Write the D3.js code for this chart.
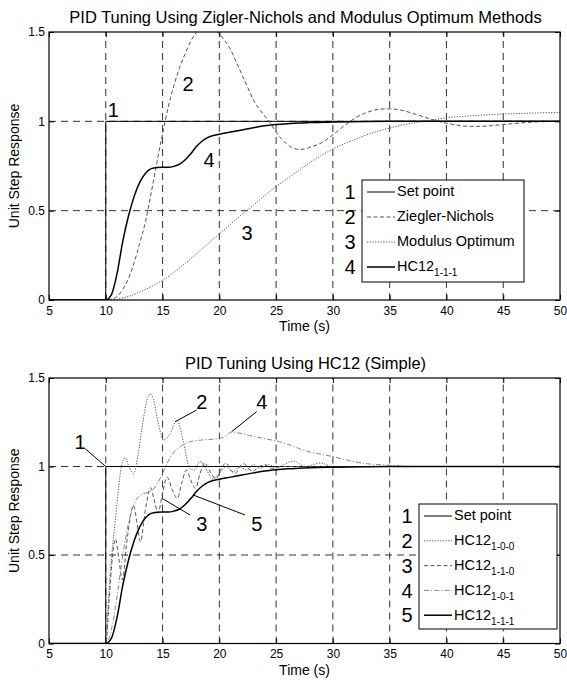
<!DOCTYPE html>
<html lang="en">
<head>
<meta charset="UTF-8">
<title>PID Tuning</title>
<script src="https://d3js.org/d3.v7.min.js"></script>
<style>
  body { margin: 0; background: #fff; }
  text { font-family: Arial, "Liberation Sans", sans-serif; fill: #000; }
  .axis .domain { display: none; }
  .axis line { stroke: #000; }
  .axis text { font-size: 12px; }
  .grid line { stroke: #333; stroke-dasharray: 7,5; }
</style>
</head>
<body>
<svg id="chart" width="567" height="680"></svg>
<script>
// ---- data ----
const xTicks = [5, 10, 15, 20, 25, 30, 35, 40, 45, 50];
const yTicks = [0, 0.5, 1, 1.5];

const setPoint = [[5,0],[10,0],[10,1],[50,1]];

const zieglerNichols = [[5,0],[10,0],[10.5,0.005],[11,0.02],[11.5,0.06],[12,0.12],[12.5,0.21],[13,0.32],
  [13.5,0.44],[14,0.6],[14.5,0.77],[15,0.93],[15.5,1.08],[16,1.2],[16.5,1.3],[17,1.38],[17.5,1.45],
  [18,1.5],[18.5,1.53],[19,1.53],[19.5,1.52],[20,1.49],[20.5,1.45],[21,1.4],[21.5,1.33],[22,1.26],
  [22.5,1.19],[23,1.12],[23.5,1.07],[24,1.03],[24.5,0.99],[25,0.94],[25.5,0.9],[26,0.87],[26.5,0.85],
  [27,0.843],[27.5,0.845],[28,0.855],[29,0.88],[30,0.925],[31,0.975],[32,1.02],[33,1.05],[34,1.067],
  [35,1.07],[36,1.063],[37,1.045],[38,1.025],[39,1.005],[40,0.99],[41,0.978],[42,0.972],[43,0.972],
  [44,0.976],[45,0.982],[46,0.988],[47,0.993],[48,0.997],[50,1.0]];

const modulusOptimum = [[5,0],[10,0],[11,0.005],[12,0.02],[13,0.045],[14,0.075],[15,0.11],[16,0.155],
  [17,0.205],[18,0.26],[19,0.315],[20,0.37],[21,0.425],[22,0.48],[23,0.53],[24,0.585],[25,0.635],
  [26,0.68],[27,0.725],[28,0.77],[29,0.81],[30,0.845],[31,0.875],[32,0.9],[33,0.925],[34,0.945],
  [35,0.962],[36,0.978],[37,0.99],[38,1.0],[39,1.01],[40,1.02],[42,1.03],[44,1.038],[46,1.043],
  [48,1.047],[50,1.05]];

const hc111 = [[5,0],[10,0],[10.5,0.03],[11,0.15],[11.5,0.33],[12,0.47],[12.5,0.58],[13,0.66],[13.5,0.71],
  [14,0.735],[14.5,0.742],[15,0.743],[15.5,0.743],[16,0.748],[16.5,0.76],[17,0.785],[17.5,0.82],
  [18,0.86],[18.5,0.89],[19,0.91],[20,0.928],[21,0.94],[22,0.952],[23,0.964],[24,0.975],[25,0.982],
  [26,0.987],[27,0.99],[28,0.993],[30,0.996],[33,0.999],[35,1.0],[50,1.0]];

const hc100 = [[5,0],[10,0],[10.2,0.2],[10.4,0.4],[10.6,0.55],[10.8,0.67],[11,0.8],[11.3,0.97],[11.7,1.05],
  [12.1,0.99],[12.45,0.96],[12.8,1.05],[13.2,1.22],[13.6,1.37],[13.9,1.41],[14.2,1.38],[14.6,1.25],
  [15.1,1.15],[15.6,1.18],[16.3,1.26],[16.8,1.15],[17.4,0.99],[17.8,0.98],[18.3,1.03],[18.8,0.99],
  [19.4,0.93],[20,0.96],[20.6,1.0],[21.2,0.97],[21.8,1.0],[22.4,0.98],[23,1.01],[23.6,0.99],
  [24.3,1.01],[25,0.995],[26.5,1.03],[27.6,1.0],[28.9,1.02],[30,1.0],[50,1.0]];

const hc110 = [[5,0],[10,0],[10.3,0.25],[10.6,0.5],[10.85,0.59],[11.15,0.48],[11.45,0.36],[11.9,0.6],
  [12.45,0.78],[12.75,0.68],[13.05,0.575],[13.5,0.76],[13.95,0.88],[14.3,0.8],[14.6,0.735],[15,0.85],
  [15.4,0.94],[15.85,0.87],[16.3,0.82],[16.7,0.91],[17.1,0.98],[17.5,0.92],[17.9,0.877],[18.3,0.96],
  [18.7,1.02],[19.2,0.97],[19.7,0.93],[20.2,0.99],[20.6,1.02],[21,0.98],[21.4,0.96],[21.8,1.0],
  [22.2,1.015],[22.6,0.985],[23,0.975],[23.5,1.0],[24,1.01],[24.6,0.99],[25.5,1.0],[50,1.0]];

const hc101 = [[5,0],[10,0],[10.5,0.08],[11,0.27],[11.5,0.5],[12,0.68],[12.5,0.79],[13,0.835],[13.5,0.85],
  [14,0.86],[14.5,0.9],[15,0.96],[15.5,1.03],[16,1.08],[16.5,1.11],[17.4,1.14],[18.5,1.15],[19.5,1.155],
  [20.4,1.165],[21.1,1.195],[22,1.185],[23,1.17],[24,1.157],[25.3,1.14],[26.5,1.115],[27.5,1.09],
  [28.5,1.075],[29.7,1.06],[31,1.04],[32.7,1.018],[34.8,1.008],[37,1.0],[50,1.0]];

const topNames = ["Set point", "Ziegler-Nichols", "Modulus Optimum", "HC12"];
const topSubs = ["", "", "", "1-1-1"];
const bottomNames = ["Set point", "HC12", "HC12", "HC12", "HC12"];
const bottomSubs = ["", "1-0-0", "1-1-0", "1-0-1", "1-1-1"];

// inline labels: [text, t, value]
const topLabels = [["1", 10.67, 1.063], ["2", 17.25, 1.21], ["3", 22.44, 0.375], ["4", 19.1, 0.783]];
// leader labels: [text, t, value, lineFromT, lineFromV, lineToT, lineToV]
const bottomLabels = [
  ["1", 7.73, 1.14, 8.2, 1.1, 10, 1],
  ["2", 18.45, 1.366, 18.0, 1.319, 16.1, 1.253],
  ["4", 23.73, 1.366, 23.29, 1.31, 21.09, 1.197],
  ["3", 18.45, 0.679, 17.42, 0.726, 15.07, 0.816],
  ["5", 23.29, 0.679, 22.26, 0.726, 17.7, 0.839]
];

// ---- styles ----
const sSet = { color: "#000", width: 1, dash: null };
const sDash = { color: "#555", width: 1, dash: "4,2.5" };
const sDot = { color: "#555", width: 1, dash: "1.2,1.5" };
const sDashDot = { color: "#888", width: 1, dash: "5,2,1.2,2" };
const sSolid = { color: "#000", width: 1.5, dash: null };

const svg = d3.select("#chart");
const left = 49, right = 560;

function drawPanel(cfg) {
  const x = d3.scaleLinear().domain([5, 50]).range([left, right]);
  const y = d3.scaleLinear().domain([0, 1.5]).range([cfg.bottom, cfg.top]);
  const g = svg.append("g");

  g.append("rect").attr("x", left).attr("y", cfg.top)
    .attr("width", right - left).attr("height", cfg.bottom - cfg.top).attr("fill", "#fff");

  // gridlines
  const grid = g.append("g").attr("class", "grid");
  grid.selectAll("line.gx").data(xTicks.slice(1, -1)).join("line").attr("class", "gx")
    .attr("x1", d => x(d)).attr("x2", d => x(d)).attr("y1", cfg.bottom).attr("y2", cfg.top);
  grid.selectAll("line.gy").data(yTicks.slice(1, -1)).join("line").attr("class", "gy")
    .attr("y1", d => y(d)).attr("y2", d => y(d)).attr("x1", left).attr("x2", right);

  // axes with inward ticks
  g.append("g").attr("class", "axis").attr("transform", `translate(0,${cfg.bottom})`)
    .call(d3.axisBottom(x).tickValues(xTicks).tickSizeInner(-5).tickSizeOuter(0).tickPadding(6).tickFormat(d3.format("d")));
  g.append("g").attr("class", "axis").attr("transform", `translate(0,${cfg.top})`)
    .call(d3.axisTop(x).tickValues(xTicks).tickSizeInner(-5).tickSizeOuter(0).tickFormat(""));
  g.append("g").attr("class", "axis").attr("transform", `translate(${left},0)`)
    .call(d3.axisLeft(y).tickValues(yTicks).tickSizeInner(-5).tickSizeOuter(0).tickPadding(4).tickFormat(d3.format("")));
  g.append("g").attr("class", "axis").attr("transform", `translate(${right},0)`)
    .call(d3.axisRight(y).tickValues(yTicks).tickSizeInner(-5).tickSizeOuter(0).tickFormat(""));

  // curves
  const clipId = "clip" + cfg.id;
  g.append("clipPath").attr("id", clipId).append("rect")
    .attr("x", left).attr("y", cfg.top).attr("width", right - left).attr("height", cfg.bottom - cfg.top);
  const lineSmooth = d3.line().x(d => x(d[0])).y(d => y(d[1])).curve(d3.curveMonotoneX);
  const lineStep = d3.line().x(d => x(d[0])).y(d => y(d[1]));
  const plot = g.append("g").attr("clip-path", `url(#${clipId})`);
  cfg.series.forEach((s, i) => {
    plot.append("path").datum(s)
      .attr("fill", "none")
      .attr("stroke", cfg.styles[i].color)
      .attr("stroke-width", cfg.styles[i].width)
      .attr("stroke-dasharray", cfg.styles[i].dash)
      .attr("d", i === 0 ? lineStep(s) : lineSmooth(s));
  });

  // box
  g.append("rect").attr("x", left).attr("y", cfg.top)
    .attr("width", right - left).attr("height", cfg.bottom - cfg.top)
    .attr("fill", "none").attr("stroke", "#000").attr("stroke-width", 1.2);

  // titles
  g.append("text").attr("x", (left + right) / 2 + 1).attr("y", cfg.top - 9)
    .attr("text-anchor", "middle").style("font-size", "16.5px").text(cfg.title);
  g.append("text").attr("x", (left + right) / 2).attr("y", cfg.bottom + 31)
    .attr("text-anchor", "middle").style("font-size", "14px").text("Time (s)");
  g.append("text").attr("transform", `translate(19,${(cfg.top + cfg.bottom) / 2}) rotate(-90)`)
    .attr("text-anchor", "middle").style("font-size", "14px").text("Unit Step Response");

  // in-plot labels
  cfg.labels.forEach(l => {
    if (l.length > 3) {
      g.append("line").attr("x1", x(l[3])).attr("y1", y(l[4])).attr("x2", x(l[5])).attr("y2", y(l[6]))
        .attr("stroke", "#000").attr("stroke-width", 1);
    }
    g.append("text").attr("x", x(l[1])).attr("y", y(l[2])).attr("dy", "0.36em")
      .attr("text-anchor", "middle").style("font-size", "20px").text(l[0]);
  });

  // legend
  const lg = cfg.legend;
  const n = cfg.names.length;
  g.append("rect").attr("x", lg.x).attr("y", lg.y).attr("width", lg.w).attr("height", lg.h)
    .attr("fill", "#fff").attr("stroke", "#000").attr("stroke-width", 1);
  for (let i = 0; i < n; i++) {
    const cy = lg.y + lg.first + i * lg.step;
    g.append("text").attr("x", lg.x - 12).attr("y", cy).attr("dy", "0.36em")
      .attr("text-anchor", "middle").style("font-size", "20px").text(i + 1);
    g.append("line").attr("x1", lg.x + 5).attr("x2", lg.x + 33).attr("y1", cy).attr("y2", cy)
      .attr("stroke", cfg.styles[i].color).attr("stroke-width", cfg.styles[i].width)
      .attr("stroke-dasharray", cfg.styles[i].dash);
    const t = g.append("text").attr("x", lg.x + 35).attr("y", cy).attr("dy", "0.3em")
      .style("font-size", "14.5px").text(cfg.names[i]);
    if (cfg.subs[i]) {
      t.append("tspan").attr("dy", "5").style("font-size", "10px").text(cfg.subs[i]);
    }
  }
}

drawPanel({
  id: 1, top: 32, bottom: 300,
  title: "PID Tuning Using Zigler-Nichols and Modulus Optimum Methods",
  series: [setPoint, zieglerNichols, modulusOptimum, hc111],
  styles: [sSet, sDash, sDot, sSolid],
  names: topNames, subs: topSubs,
  labels: topLabels,
  legend: { x: 362, y: 180, w: 162, h: 102, first: 12, step: 25 }
});

drawPanel({
  id: 2, top: 378, bottom: 643.5,
  title: "PID Tuning Using HC12 (Simple)",
  series: [setPoint, hc100, hc110, hc101, hc111],
  styles: [sSet, sDot, sDash, sDashDot, sSolid],
  names: bottomNames, subs: bottomSubs,
  labels: bottomLabels,
  legend: { x: 419, y: 504, w: 138, h: 125, first: 12, step: 24.8 }
});
</script>
</body>
</html>
